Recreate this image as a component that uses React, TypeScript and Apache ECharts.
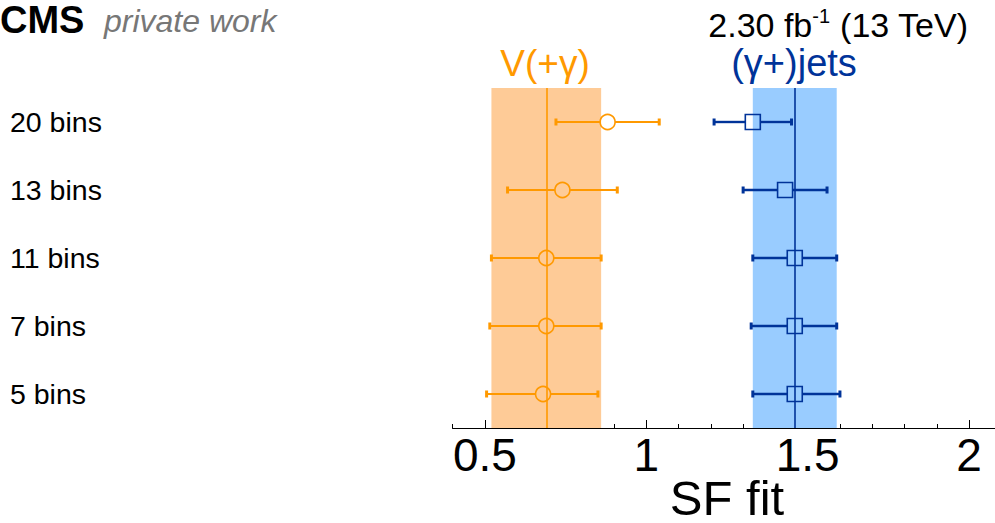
import React, { useEffect, useRef } from "react";
import * as echarts from "echarts";

// Fit configurations (top to bottom)
const categories = ["20 bins", "13 bins", "11 bins", "7 bins", "5 bins"];

// V(+gamma) scale factors: central value and error-bar ends
const vgCentral = [0.88, 0.74, 0.69, 0.69, 0.68];
const vgLow = [0.72, 0.57, 0.52, 0.515, 0.505];
const vgHigh = [1.04, 0.91, 0.86, 0.86, 0.85];

// (gamma+)jets scale factors
const gjCentral = [1.33, 1.43, 1.46, 1.46, 1.46];
const gjLow = [1.21, 1.3, 1.33, 1.325, 1.33];
const gjHigh = [1.45, 1.56, 1.59, 1.59, 1.6];

// Reference bands: [low, central, high]
const vgBand = [0.52, 0.69, 0.86];
const gjBand = [1.33, 1.46, 1.59];

// Axis ticks
const majorTicks = [0.5, 1, 1.5, 2];
const xMin = 0.4;
const xMax = 2.1;

const ORANGE = "#ff9900";
const ORANGE_BAND = "#fecb97";
const BLUE = "#003399";
const BLUE_BAND = "#99ccff";
const FONT = '"Liberation Sans", Arial, Helvetica, sans-serif';

const MARKER_SIZE = 15;

function errorBar(color: string, lineWidth: number) {
  return (params: any, api: any) => {
    const cat = api.value(2);
    const lo = api.coord([api.value(0), cat]);
    const hi = api.coord([api.value(1), cat]);
    const c = api.coord([api.value(3), cat]);
    const y = lo[1];
    const gap = MARKER_SIZE / 2;
    const cap = 3.5;
    const line = { stroke: color, lineWidth };
    const capStyle = { stroke: color, lineWidth: 3 };
    return {
      type: "group",
      children: [
        { type: "line", shape: { x1: lo[0], y1: y, x2: c[0] - gap, y2: y }, style: line },
        { type: "line", shape: { x1: c[0] + gap, y1: y, x2: hi[0], y2: y }, style: line },
        { type: "line", shape: { x1: lo[0], y1: y - cap, x2: lo[0], y2: y + cap }, style: capStyle },
        { type: "line", shape: { x1: hi[0], y1: y - cap, x2: hi[0], y2: y + cap }, style: capStyle },
      ],
    };
  };
}

function bandSeries(band: number[], fill: string, stroke: string) {
  return {
    type: "scatter",
    data: [],
    z: 1,
    silent: true,
    markArea: {
      silent: true,
      itemStyle: { color: fill },
      data: [[{ xAxis: band[0] }, { xAxis: band[2] }]],
    },
    markLine: {
      silent: true,
      symbol: "none",
      label: { show: false },
      lineStyle: { color: stroke, width: 1.6, type: "solid" },
      data: [{ xAxis: band[1] }],
    },
  };
}

export default function App() {
  const ref = useRef<HTMLDivElement>(null);

  useEffect(() => {
    if (!ref.current) return;
    const chart = echarts.init(ref.current, undefined, { renderer: "svg" });

    const gridLeft = 452.7;
    const pxPerUnit = 322.7;
    const gridWidth = (xMax - xMin) * pxPerUnit;

    const xBase = {
      type: "value",
      min: xMin,
      max: xMax,
      position: "bottom",
      splitLine: { show: false },
      axisLine: { show: true, onZero: false, lineStyle: { color: "#000", width: 1 } },
    };

    chart.setOption({
      animation: false,
      backgroundColor: "#ffffff",
      grid: {
        left: gridLeft,
        top: 88,
        width: gridWidth,
        height: 340,
        containLabel: false,
        outerBoundsMode: "none",
      },
      xAxis: [
        {
          ...xBase,
          interval: 0.1,
          axisTick: { show: true, inside: true, length: 4, lineStyle: { color: "#000", width: 1 } },
          axisLabel: { show: false },
        },
        {
          ...xBase,
          interval: 0.1,
          axisTick: {
            show: true,
            inside: true,
            length: 8,
            customValues: majorTicks,
            lineStyle: { color: "#000", width: 1 },
          },
          axisLabel: {
            show: true,
            customValues: majorTicks,
            formatter: (v: number) => String(v),
            color: "#000",
            fontFamily: FONT,
            fontSize: 46,
            margin: 4,
          },
          name: "SF fit",
          nameLocation: "middle",
          nameGap: 50,
          nameMoveOverlap: false,
          nameTextStyle: { color: "#000", fontFamily: FONT, fontSize: 49, lineHeight: 40 },
        },
      ],
      yAxis: {
        type: "category",
        data: categories,
        inverse: true,
        axisLine: { show: false },
        axisTick: { show: false },
        splitLine: { show: false },
        axisLabel: {
          align: "left",
          margin: gridLeft - 10,
          color: "#000",
          fontFamily: FONT,
          fontSize: 28.5,
        },
      },
      series: [
        bandSeries(vgBand, ORANGE_BAND, ORANGE),
        bandSeries(gjBand, BLUE_BAND, BLUE),
        {
          type: "custom",
          z: 3,
          silent: true,
          renderItem: errorBar(ORANGE, 2.2),
          encode: { x: [0, 1], y: 2 },
          data: categories.map((_, i) => [vgLow[i], vgHigh[i], i, vgCentral[i]]),
        },
        {
          type: "custom",
          z: 3,
          silent: true,
          renderItem: errorBar(BLUE, 2.4),
          encode: { x: [0, 1], y: 2 },
          data: categories.map((_, i) => [gjLow[i], gjHigh[i], i, gjCentral[i]]),
        },
        {
          type: "scatter",
          z: 4,
          silent: true,
          symbol: "circle",
          symbolSize: MARKER_SIZE,
          itemStyle: { color: "rgba(255,255,255,0)", borderColor: ORANGE, borderWidth: 1.6, opacity: 1 },
          data: categories.map((_, i) => [vgCentral[i], i]),
        },
        {
          type: "scatter",
          z: 4,
          silent: true,
          symbol: "rect",
          symbolSize: MARKER_SIZE,
          itemStyle: { color: "rgba(255,255,255,0)", borderColor: BLUE, borderWidth: 1.6, opacity: 1 },
          data: categories.map((_, i) => [gjCentral[i], i]),
        },
      ],
      graphic: [
        {
          type: "text",
          x: 0,
          y: 19.5,
          style: {
            text: "CMS",
            font: `bold 38px ${FONT}`,
            lineHeight: 38,
            fill: "#000",
            align: "left",
            verticalAlign: "middle",
          },
        },
        {
          type: "text",
          x: 104,
          y: 20.5,
          style: {
            text: "private work",
            font: `italic 32px ${FONT}`,
            fill: "#777777",
            align: "left",
            verticalAlign: "middle",
          },
        },
        {
          type: "text",
          x: 968,
          y: 25,
          style: {
            text: "{a|2.30 fb}{s|-1}{a| (13 TeV)}",
            align: "right",
            verticalAlign: "middle",
            rich: {
              a: { font: `34px ${FONT}`, fill: "#000", lineHeight: 38 },
              s: { font: `20px ${FONT}`, fill: "#000", verticalAlign: "top", lineHeight: 38 },
            },
          },
        },
        {
          type: "text",
          x: 545,
          y: 63,
          style: {
            text: "V(+γ)",
            font: `37px ${FONT}`,
            fill: ORANGE,
            align: "center",
            verticalAlign: "middle",
          },
        },
        {
          type: "text",
          x: 794,
          y: 63,
          style: {
            text: "(γ+)jets",
            font: `38px ${FONT}`,
            fill: BLUE,
            align: "center",
            verticalAlign: "middle",
          },
        },
      ],
    });

    return () => chart.dispose();
  }, []);

  return (
    <div
      ref={ref}
      style={{ position: "fixed", left: 0, top: 0, width: 995, height: 523, background: "#fff" }}
    />
  );
}
